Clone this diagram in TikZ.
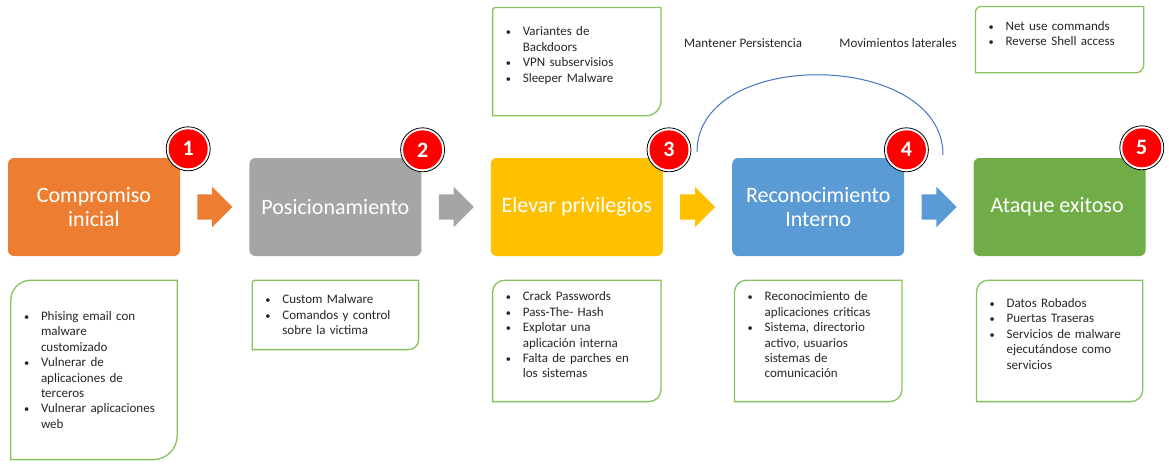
\documentclass[tikz,border=0pt]{standalone}
\usepackage{fontspec}
\setmainfont{Carlito}
\usepackage{tikz}
\usetikzlibrary{positioning,shapes.arrows}

\definecolor{cOrange}{HTML}{ED7D31}
\definecolor{cGray}{HTML}{A5A5A5}
\definecolor{cYellow}{HTML}{FFC000}
\definecolor{cBlue}{HTML}{5B9BD5}
\definecolor{cGreen}{HTML}{70AD47}
\definecolor{cNote}{HTML}{86C35C}
\definecolor{cArc}{HTML}{4472C4}
\definecolor{cText}{HTML}{262626}

\newcommand{\bl}{\makebox[17pt][l]{\scalebox{0.8}{\textbullet}}}
\newcommand{\ind}{\hspace*{17pt}}
% frame of a note: top-left and bottom-right corners rounded, moved down by #4
\newcommand{\notebox}[4]{%
  \draw[noteline] ([yshift=-#4pt-#2pt]#1.north west) arc[start angle=180, end angle=90, radius=#2pt]
    -- ([yshift=-#4pt]#1.north east) -- ([yshift=-#4pt+#3pt]#1.south east)
    arc[start angle=0, end angle=-90, radius=#3pt] -- ([yshift=-#4pt]#1.south west) -- cycle;}

\begin{document}
\begin{tikzpicture}[x=1pt, y=-1pt,
        stage/.style={rounded corners=6pt, minimum width=172pt, minimum height=98pt, inner sep=0pt,
            text=white, align=center, font=\fontsize{22}{23.5}\selectfont},
        badge/.style={circle, draw=black, line width=0.8pt, fill=white, minimum size=44pt, inner sep=0pt,
            text=white, font=\fontsize{22}{22}\selectfont\bfseries,
            path picture={\fill[red] (path picture bounding box.center) circle (19.5pt);}},
        blockarrow/.style={single arrow, single arrow head extend=7.5pt, single arrow head indent=0pt,
            minimum height=35pt, inner xsep=0pt, inner ysep=12.5pt, anchor=tail},
        note/.style={inner xsep=13pt, inner ysep=0pt, align=left, text=cText,
            font=\fontsize{13}{15.4}\selectfont},
        noteline/.style={draw=cNote, line width=1.3pt},
        flowline/.style={draw=cArc, line width=1pt},
        caption/.style={text=cText, font=\fontsize{13}{15.5}\selectfont}
    ]
        \useasboundingbox (0,0) rectangle (1169,469);

        % stages
        \node[stage, fill=cOrange] (st1) at (94,207) {Compromiso\\inicial};
        \foreach \curr/\prev/\col/\content in {
                2/1/cGray/{Posicionamiento},
                3/2/cYellow/{Elevar privilegios},
                4/3/cBlue/{Reconocimiento\\Interno},
                5/4/cGreen/{Ataque exitoso}
                } {
            \node[stage, fill=\col, right=69pt of st\prev] (st\curr) {\content};
        }
        \foreach \prev/\col in {1/cOrange, 2/cGray, 3/cYellow, 4/cBlue} {
            \node[blockarrow, fill=\col] (arr\prev) at ([xshift=17pt]st\prev.east) {};
        }

        % numbers
        \foreach \i/\dx/\dy in {1/8/9, 2/1/8, 3/6/8, 4/2/8, 5/-4/10} {
            \node[badge] (num\i) at ([xshift=\dx pt, yshift=\dy pt]st\i.north east) {\i};
        }

        % notes below
        \node[note, text width=140pt, minimum height=179pt, below=24pt of st1] (n1) {%
            \bl Phising email con\\ \ind malware\\ \ind customizado\\
            \bl Vulnerar de\\ \ind aplicaciones de\\ \ind terceros\\
            \bl Vulnerar aplicaciones\\ \ind web};
        \node[note, text width=140pt, minimum height=69pt, below=24pt of st2] (n2) {%
            \bl Custom Malware\\
            \bl Comandos y control\\ \ind sobre la victima};
        \node[note, text width=142pt, minimum height=121pt, below=24pt of st3, yshift=6pt] (n3) {%
            \bl Crack Passwords\\
            \bl Pass-The- Hash\\
            \bl Explotar una\\ \ind aplicación interna\\
            \bl Falta de parches en\\ \ind los sistemas};
        \node[note, text width=141pt, minimum height=121pt, below=24pt of st4, yshift=6pt] (n4) {%
            \bl Reconocimiento de\\ \ind aplicaciones criticas\\
            \bl Sistema, directorio\\ \ind activo, usuarios\\ \ind sistemas de\\ \ind comunicación};
        \node[note, text width=140pt, minimum height=121pt, below=24pt of st5, yshift=7pt] (n5) {%
            \bl Datos Robados\\
            \bl Puertas Traseras\\
            \bl Servicios de malware\\ \ind ejecutándose como\\ \ind servicios};

        % notes above
        \node[note, text width=142pt, minimum height=108pt, above=42pt of st3, yshift=6pt] (t3) {%
            \bl Variantes de\\ \ind Backdoors\\
            \bl VPN subservisios\\
            \bl Sleeper Malware};
        \node[note, text width=142pt, minimum height=66pt, above=85pt of st5, yshift=6pt] (t5) {%
            \bl Net use commands\\
            \bl Reverse Shell access};

        \notebox{n1}{20}{24}{0}
        \notebox{n2}{3}{10}{0}
        \notebox{n3}{12}{12}{6}
        \notebox{n4}{12}{12}{6}
        \notebox{n5}{12}{12}{7}
        \notebox{t3}{3}{15}{6}
        \notebox{t5}{6}{8}{6}

        % arc over stages 3 and 4
        \coordinate (arcL) at (697,152);
        \coordinate (arcR) at (943,155);
        \draw[flowline] (arcL) .. controls +(0,-105) and +(0,-105) .. (arcR);
        \node[caption] (persist) at (743,43) {Mantener Persistencia};
        \node[caption] (lateral) at (898,43) {Movimientos laterales};
    \end{tikzpicture}
\end{document}
